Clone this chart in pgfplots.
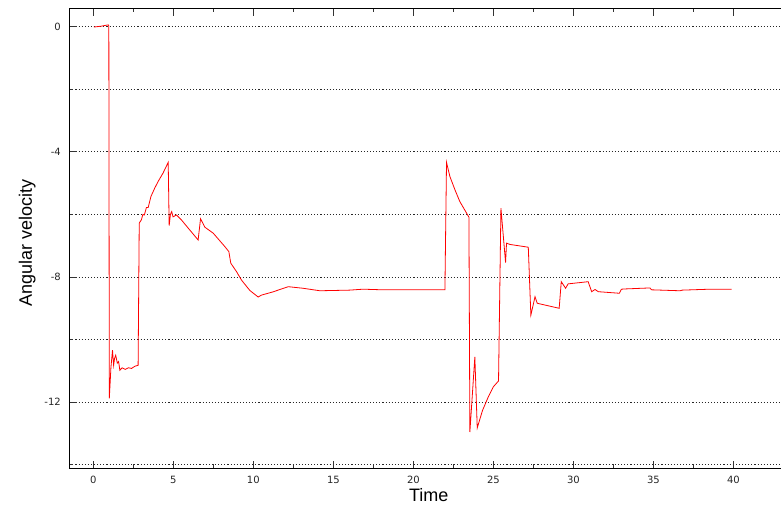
\documentclass[border=0pt]{standalone}
\usepackage{fontspec}
\setmainfont{Liberation Sans}
\newfontfamily\tickfont{DejaVu Sans}
\usepackage{pgfplots}
\pgfplotsset{compat=1.18}

\begin{document}
\begin{tikzpicture}
% fix the page to the reference frame (1 px = 1 bp), axis box starts at (0,0)
\path[use as bounding box] (-69.3bp,-41bp) rectangle (711.7bp,468bp);
\begin{axis}[
  scale only axis,
  width=711.7bp, height=459.7bp,
  xmin=-1.5, xmax=42.97, ymin=-14.1, ymax=0.58,
  axis x line=box, axis y line=left,
  axis line style={-, black, line width=1bp},
  tick align=inside,
  xtick={0,5,...,40}, minor x tick num=1,
  ytick={-12,-8,-4,0}, minor ytick={-14,-10,-6,-2},
  major tick length=7.5bp, minor tick length=4bp,
  every tick/.style={black!80, line width=0.8bp},
  ymajorgrids, yminorgrids,
  major grid style={black!85, line width=0.9bp, dash pattern=on 1.1bp off 2bp},
  minor grid style={black!85, line width=0.9bp, dash pattern=on 1.1bp off 2bp},
  /pgf/number format/assume math mode=true,
  tick label style={font=\tickfont\fontsize{10bp}{12bp}\selectfont, black!85},
  xticklabel style={yshift=-4.5bp},
  yticklabel style={xshift=-5bp},
  xlabel={Time}, ylabel={Angular velocity},
  label style={font=\fontsize{18bp}{21bp}\selectfont},
  xlabel style={at={(axis description cs:0.505,0)}, anchor=base, yshift=-33.7bp},
  ylabel style={at={([xshift=-37.3bp]axis description cs:0,0.49)}, anchor=base},
]
\addplot[red, line width=0.8bp, mark=none] coordinates {
(0.03,-0.02) (0.5,0.01) (0.93,0.05) (0.97,0.03) (1.0,-11.88)
(1.1,-10.9) (1.2,-10.34) (1.27,-10.82) (1.33,-10.6) (1.4,-10.5) (1.5,-10.75)
(1.58,-10.7) (1.66,-10.98) (1.8,-10.9) (2.0,-10.95) (2.2,-10.9) (2.39,-10.92)
(2.6,-10.85) (2.8,-10.82) (2.87,-6.28) (3.0,-6.18) (3.1,-6.0) (3.19,-6.02)
(3.32,-5.78) (3.43,-5.78) (3.6,-5.43) (3.84,-5.16) (4.05,-4.95) (4.36,-4.68)
(4.68,-4.34) (4.74,-6.36) (4.82,-6.0) (4.9,-5.91) (4.98,-6.08) (5.2,-6.02)
(5.51,-6.18) (5.93,-6.44) (6.55,-6.82) (6.7,-6.14) (6.97,-6.41) (7.49,-6.6)
(8.22,-7.03) (8.47,-7.19) (8.59,-7.56) (8.95,-7.83) (9.26,-8.1) (9.78,-8.43)
(10.3,-8.64) (10.5,-8.58) (11.2,-8.48) (12.18,-8.31) (13.1,-8.36) (14.16,-8.44)
(16.0,-8.42) (16.86,-8.39) (18.1,-8.41) (21.97,-8.41) (22.07,-4.34) (22.28,-4.79)
(22.6,-5.22) (22.9,-5.59) (23.47,-6.09) (23.53,-12.95) (23.84,-10.55) (23.99,-12.82)
(24.32,-12.26) (24.68,-11.83) (24.99,-11.51) (25.32,-11.32) (25.47,-5.8) (25.76,-7.54)
(25.82,-6.92) (26.03,-6.96) (27.18,-7.05) (27.34,-9.22) (27.6,-8.63) (27.74,-8.84)
(29.11,-9.0) (29.24,-8.15) (29.51,-8.36) (29.67,-8.22) (30.92,-8.15) (31.14,-8.47)
(31.35,-8.40) (31.56,-8.47) (32.87,-8.52) (33.0,-8.39) (33.32,-8.38) (34.78,-8.35)
(34.88,-8.41) (36.66,-8.44) (36.8,-8.42) (38.53,-8.39) (39.89,-8.39)
};
\end{axis}
\end{tikzpicture}
\end{document}
